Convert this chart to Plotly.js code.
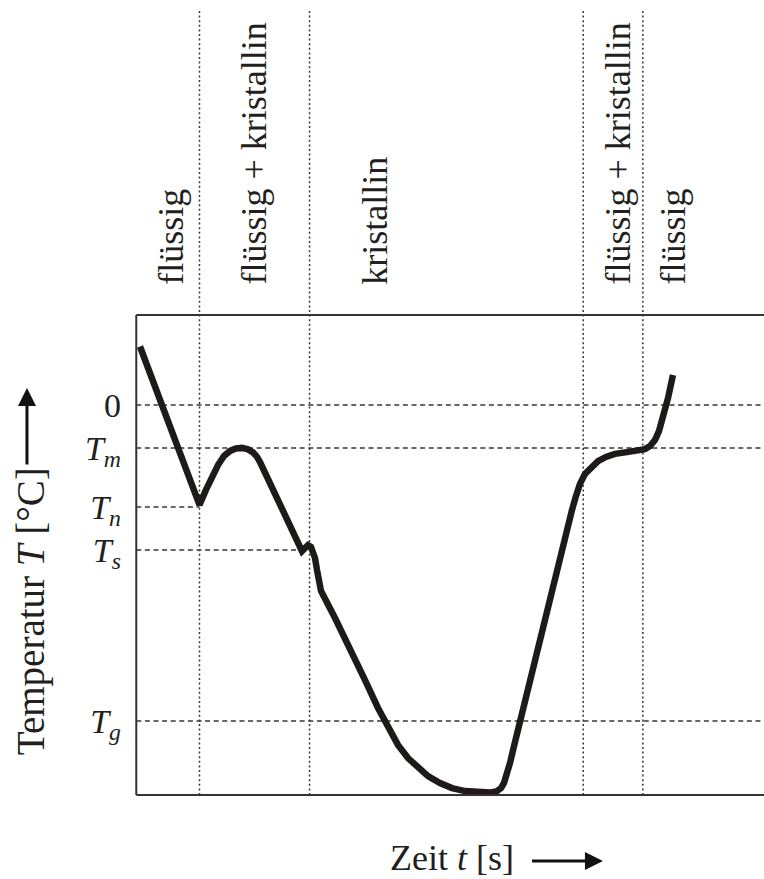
<!DOCTYPE html>
<html><head><meta charset="utf-8">
<script src="https://cdn.plot.ly/plotly-3.0.1.min.js"></script>
<style>html,body{margin:0;padding:0;background:#fff}#chart{width:764px;height:879px}</style>
</head><body><div id="chart"></div>
<script>
// Time (arbitrary units, 0 = left border) and temperature (arbitrary units, 0 = 0 °C)
const timeS = [0.59, 10.07, 11.10, 12.06, 13.02, 13.97, 14.93, 15.88, 16.84, 17.80, 18.59, 19.23, 19.71,
  26.40, 26.88, 27.36, 27.83, 28.15, 28.47, 28.79, 29.11, 29.43,
  31.66, 34.05, 36.44, 38.51, 40.10, 41.69, 43.29, 44.88, 46.47, 48.38, 50.30, 52.37, 54.44, 56.35,
  57.47, 58.11, 58.58, 59.06, 59.54, 60.18, 61.14, 62.74, 65.11, 67.50, 69.41,
  70.05, 70.68, 71.48, 72.43, 73.55, 74.82, 76.26, 78.17, 79.92, 81.04, 81.84, 82.63, 83.27, 83.91, 84.71, 85.50];
const tempC = [19.5, -33.3, -28.3, -23.7, -20.0, -17.0, -15.3, -14.5, -14.3, -14.8, -15.8, -17.3, -19.0,
  -48.7, -47.3, -46.7, -47.3, -48.7, -51.0, -55.0, -59.0, -62.0,
  -71.0, -81.0, -91.7, -101.0, -107.7, -113.3, -117.7, -121.0, -123.7, -126.0, -127.7, -128.7, -129.2, -129.2,
  -128.7, -127.7, -126.0, -123.0, -119.3, -113.7, -105.3, -91.7, -71.7, -51.7, -35.0,
  -30.3, -26.3, -23.0, -20.7, -18.7, -17.3, -16.3, -15.7, -15.2, -14.7, -13.7, -11.7, -8.7, -4.3, 2.3, 10.0];

const levelText = ['0', '<i>T</i><sub><i>m</i></sub>', '<i>T</i><sub><i>n</i></sub>', '<i>T</i><sub><i>s</i></sub>', '<i>T</i><sub><i>g</i></sub>'];
const levelValue = [0, -14.3, -34.0, -48.3, -105.3];
const levelEnd = [100, 100, 10.07, 26.3, 100];

const phaseBounds = [10.07, 27.6, 71.2, 80.7];
const phaseLabels = ['flüssig', 'flüssig + kristallin', 'kristallin', 'flüssig + kristallin', 'flüssig'];
const phaseLabelX = [5.4, 18.6, 37.9, 76.6, 85.5];

const boxTop = 30, boxBottom = -130, xMin = -1, xMax = 100, yMin = -130.67, yMax = 131.67;

const FONT = 'Liberation Serif';
const TXT = '#231f20';
const LINE = '#3a3636';

const traces = [];
levelValue.forEach((v, i) => {
  traces.push({type: 'scatter', mode: 'lines', x: [0, levelEnd[i]], y: [v, v],
    line: {color: LINE, width: 1.5, dash: '5px,3.6px'}, hoverinfo: 'skip', showlegend: false});
});
phaseBounds.forEach(b => {
  traces.push({type: 'scatter', mode: 'lines', x: [b, b], y: [boxBottom, yMax],
    line: {color: LINE, width: 1.5, dash: '2px,2.6px'}, hoverinfo: 'skip', showlegend: false});
});
traces.push({type: 'scatter', mode: 'lines', x: timeS, y: tempC,
  line: {color: '#1e1a1a', width: 6.5}, showlegend: false});

const annotations = phaseLabels.map((t, i) => ({
  xref: 'x', yref: 'y', x: phaseLabelX[i], y: 39.5, text: t, textangle: -90,
  xanchor: 'center', yanchor: 'bottom', showarrow: false,
  font: {family: FONT, size: 36, color: TXT}
}));
annotations.push({xref: 'paper', yref: 'paper', x: -0.156, y: 0.2363, text: 'Temperatur <i>T</i> [°C]',
  textangle: -90, xanchor: 'center', yanchor: 'middle', showarrow: false,
  font: {family: FONT, size: 39, color: TXT}});
annotations.push({xref: 'paper', yref: 'paper', x: 0.508, y: -0.0775, text: 'Zeit <i>t</i> [s]',
  xanchor: 'center', yanchor: 'middle', showarrow: false,
  font: {family: FONT, size: 36, color: TXT}});
annotations.push({xref: 'paper', yref: 'paper', x: -0.1625, y: 0.5197, text: ' ', showarrow: true,
  ax: 0, ay: 85, arrowhead: 2, arrowsize: 1.2, arrowwidth: 3, arrowcolor: '#111'});
annotations.push({xref: 'paper', yref: 'paper', x: 0.746, y: -0.0813, text: ' ', showarrow: true,
  ax: -74, ay: 0, arrowhead: 2, arrowsize: 1.2, arrowwidth: 3, arrowcolor: '#111'});

const shapes = [
  {type: 'line', xref: 'x', yref: 'y', x0: 0, x1: xMax, y0: boxTop, y1: boxTop, line: {color: '#333', width: 2}},
  {type: 'line', xref: 'x', yref: 'y', x0: 0, x1: xMax, y0: boxBottom, y1: boxBottom, line: {color: '#333', width: 2}},
  {type: 'line', xref: 'x', yref: 'y', x0: 0, x1: 0, y0: boxBottom, y1: boxTop, line: {color: '#333', width: 2}}
];

const layout = {
  width: 764, height: 879,
  margin: {l: 130, r: 0, t: 10, b: 82},
  paper_bgcolor: '#fff', plot_bgcolor: '#fff',
  font: {family: FONT, color: TXT},
  xaxis: {range: [xMin, xMax], visible: false, fixedrange: true},
  yaxis: {range: [yMin, yMax], tickvals: levelValue, ticktext: levelText, showgrid: false, zeroline: false,
    showline: false, ticks: '', ticklabelstandoff: 8, tickfont: {family: FONT, size: 34, color: TXT}, fixedrange: true},
  shapes: shapes,
  annotations: annotations,
  showlegend: false
};

Plotly.newPlot('chart', traces, layout, {displayModeBar: false, staticPlot: true});
</script>
</body></html>
